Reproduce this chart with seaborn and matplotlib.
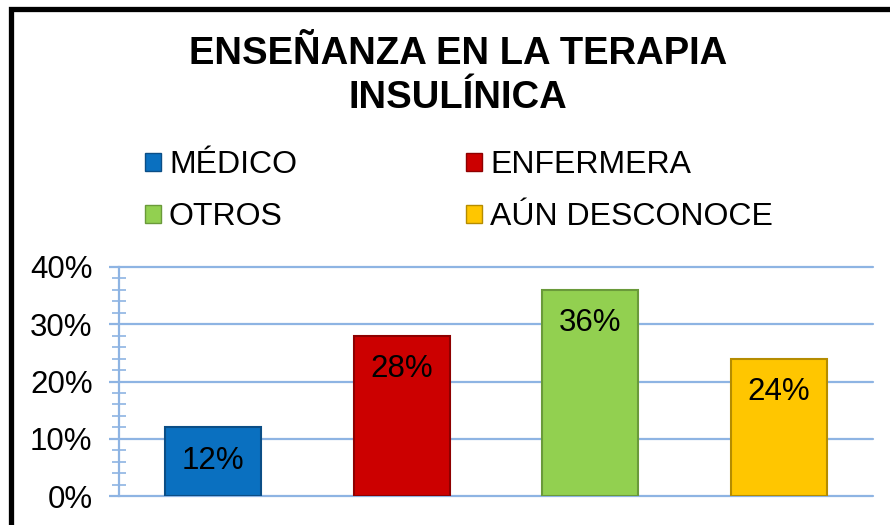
import numpy as np
import pandas as pd
import seaborn as sns
import matplotlib.pyplot as plt
from matplotlib.patches import Patch, Rectangle
from matplotlib.ticker import MultipleLocator, PercentFormatter

# datos
categorias = ['MÉDICO', 'ENFERMERA', 'OTROS', 'AÚN DESCONOCE']
porcentajes = [12, 28, 36, 24]
colores = ['#0A70C0', '#CC0000', '#92D050', '#FFC600']
bordes = ['#0B4E86', '#8E0000', '#6A9A3A', '#B58C00']
titulo = 'ENSEÑANZA EN LA TERAPIA\nINSULÍNICA'

df = pd.DataFrame({'categoria': categorias, 'pct': porcentajes})

sns.set_theme(style='white')
plt.rcParams['font.family'] = ['Liberation Sans', 'DejaVu Sans']
plt.rcParams['text.color'] = 'black'
plt.rcParams['ytick.labelcolor'] = 'black'

fig = plt.figure(figsize=(8.9, 5.25), dpi=100)
ax = fig.add_axes([119/890, 1-496/525, (873-119)/890, (496-267)/525])

sns.barplot(data=df, x='categoria', y='pct', hue='categoria', palette=colores,
            saturation=1, width=0.51, legend=False, ax=ax, zorder=3)
for bar, borde in zip(ax.patches, bordes):
    bar.set_edgecolor(borde)
    bar.set_linewidth(1.5)

# etiquetas dentro de la barra
for bar, v in zip(ax.patches, porcentajes):
    ax.annotate(f'{v}%', (bar.get_x() + bar.get_width()/2, bar.get_height()),
                xytext=(0, -24), textcoords='offset points',
                ha='center', va='center', fontsize=22.5, color='black', zorder=5)

ax.set_xlim(-0.5, 3.5)
ax.set_ylim(0, 40)
ax.yaxis.set_major_locator(MultipleLocator(10))
ax.yaxis.set_minor_locator(MultipleLocator(2))
ax.yaxis.set_major_formatter(PercentFormatter(decimals=0))
ax.set_xlabel('')
ax.set_ylabel('')
ax.set_xticks([])

grid_col = '#8EB4E3'
ax.grid(axis='y', which='major', color=grid_col, linewidth=1.6, zorder=0)
for gl in ax.get_ygridlines():
    gl.set_clip_on(False)
ax.set_axisbelow(True)
for s in ['top', 'right', 'bottom']:
    ax.spines[s].set_visible(False)
ax.spines['left'].set_color(grid_col)
ax.spines['left'].set_linewidth(1.6)
ax.tick_params(axis='y', which='major', direction='out', length=7, width=1.6,
               color=grid_col, labelsize=22.5, labelcolor='black', pad=12, left=True)
ax.tick_params(axis='y', which='minor', direction='inout', length=10, width=1.2,
               color=grid_col, left=True)

# titulo
fig.text(458/890, 1-76/525, titulo, ha='center', va='center', color='black',
         fontsize=27.5, fontweight='bold', linespacing=1.3)

# leyenda
handles = [Patch(facecolor=c, edgecolor=b, label=l) for c, b, l in zip(colores, bordes, categorias)]
fig.legend(handles=[handles[0], handles[2], handles[1], handles[3]],
           labels=[categorias[0], categorias[2], categorias[1], categorias[3]],
           ncol=2, loc='upper left', bbox_to_anchor=(145/890, 1-150/525),
           frameon=False, fontsize=23, handlelength=0.5, handleheight=0.5,
           handletextpad=0.25, columnspacing=5.3, labelspacing=0.7,
           borderpad=0, borderaxespad=0)

# marco negro (solo se ve arriba e izquierda)
fig.add_artist(Rectangle((10.5/890, -0.2), 1.5, 1.2 - 8.5/525, transform=fig.transFigure,
                         fill=False, edgecolor='black', linewidth=3.8))

fig.savefig('out.png', dpi=100)
